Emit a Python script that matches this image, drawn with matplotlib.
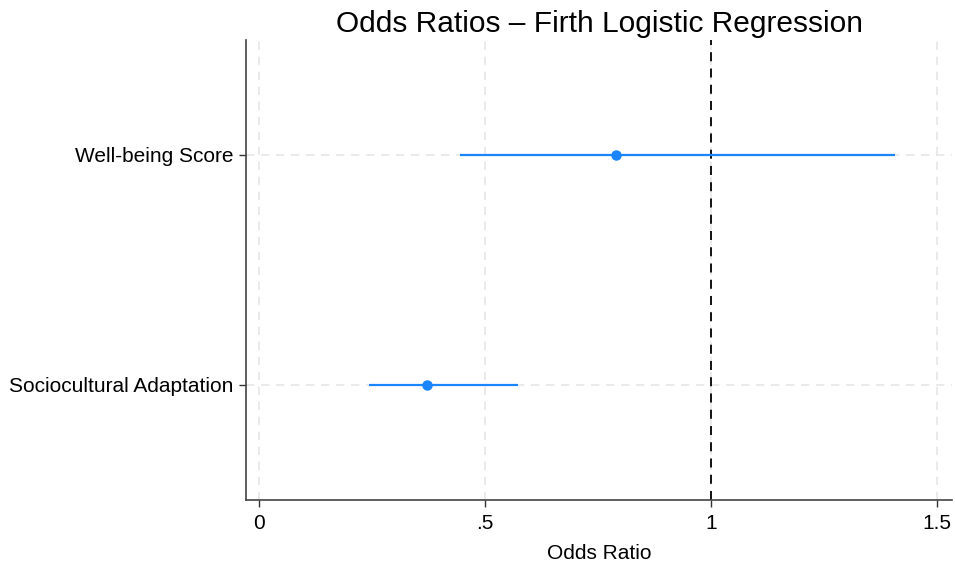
import matplotlib.pyplot as plt

plt.rcParams['font.family'] = ['Liberation Sans', 'DejaVu Sans']

# coefficient estimates (odds ratios) with 95% CI
labels = ['Sociocultural Adaptation', 'Well-being Score']
odds = [0.372, 0.790]
ci_low = [0.243, 0.445]
ci_high = [0.573, 1.407]
xticks = [0, 0.5, 1, 1.5]
xticklabels = ['0', '.5', '1', '1.5']

fig = plt.figure(figsize=(9.55, 5.67), dpi=100)
ax = fig.add_axes([0.2576, 0.1182, 0.7394, 0.8113])

ypos = list(range(1, len(labels) + 1))
blue = '#1a85ff'

ax.hlines(ypos, ci_low, ci_high, color=blue, lw=1.6, zorder=3)
ax.plot(odds, ypos, 'o', color=blue, ms=6.5, zorder=4)
ax.axvline(1, color='black', ls=(0, (5, 4)), lw=1.3, zorder=2)

for x in xticks:
    ax.axvline(x, color='#e6e6e6', ls=(0, (5, 4)), lw=1.2, zorder=1)
for y in ypos:
    ax.axhline(y, color='#e6e6e6', ls=(0, (5, 4)), lw=1.2, zorder=1)

ax.set_xlim(-0.029, 1.533)
ax.set_ylim(0.5, 2.5)
ax.set_xticks(xticks)
ax.set_xticklabels(xticklabels)
ax.set_yticks(ypos)
ax.set_yticklabels(labels)
ax.tick_params(labelsize=15, length=5, width=1, color='#333333')
ax.tick_params(axis='y', pad=4)
ax.tick_params(axis='x', pad=5)

for s in ['top', 'right']:
    ax.spines[s].set_visible(False)
for s in ['left', 'bottom']:
    ax.spines[s].set_color('#444444')
    ax.spines[s].set_linewidth(1.2)

ax.set_xlabel('Odds Ratio', fontsize=15, labelpad=8)
ax.set_title('Odds Ratios – Firth Logistic Regression', fontsize=21.5, pad=6)

fig.savefig('out.png', dpi=100)
